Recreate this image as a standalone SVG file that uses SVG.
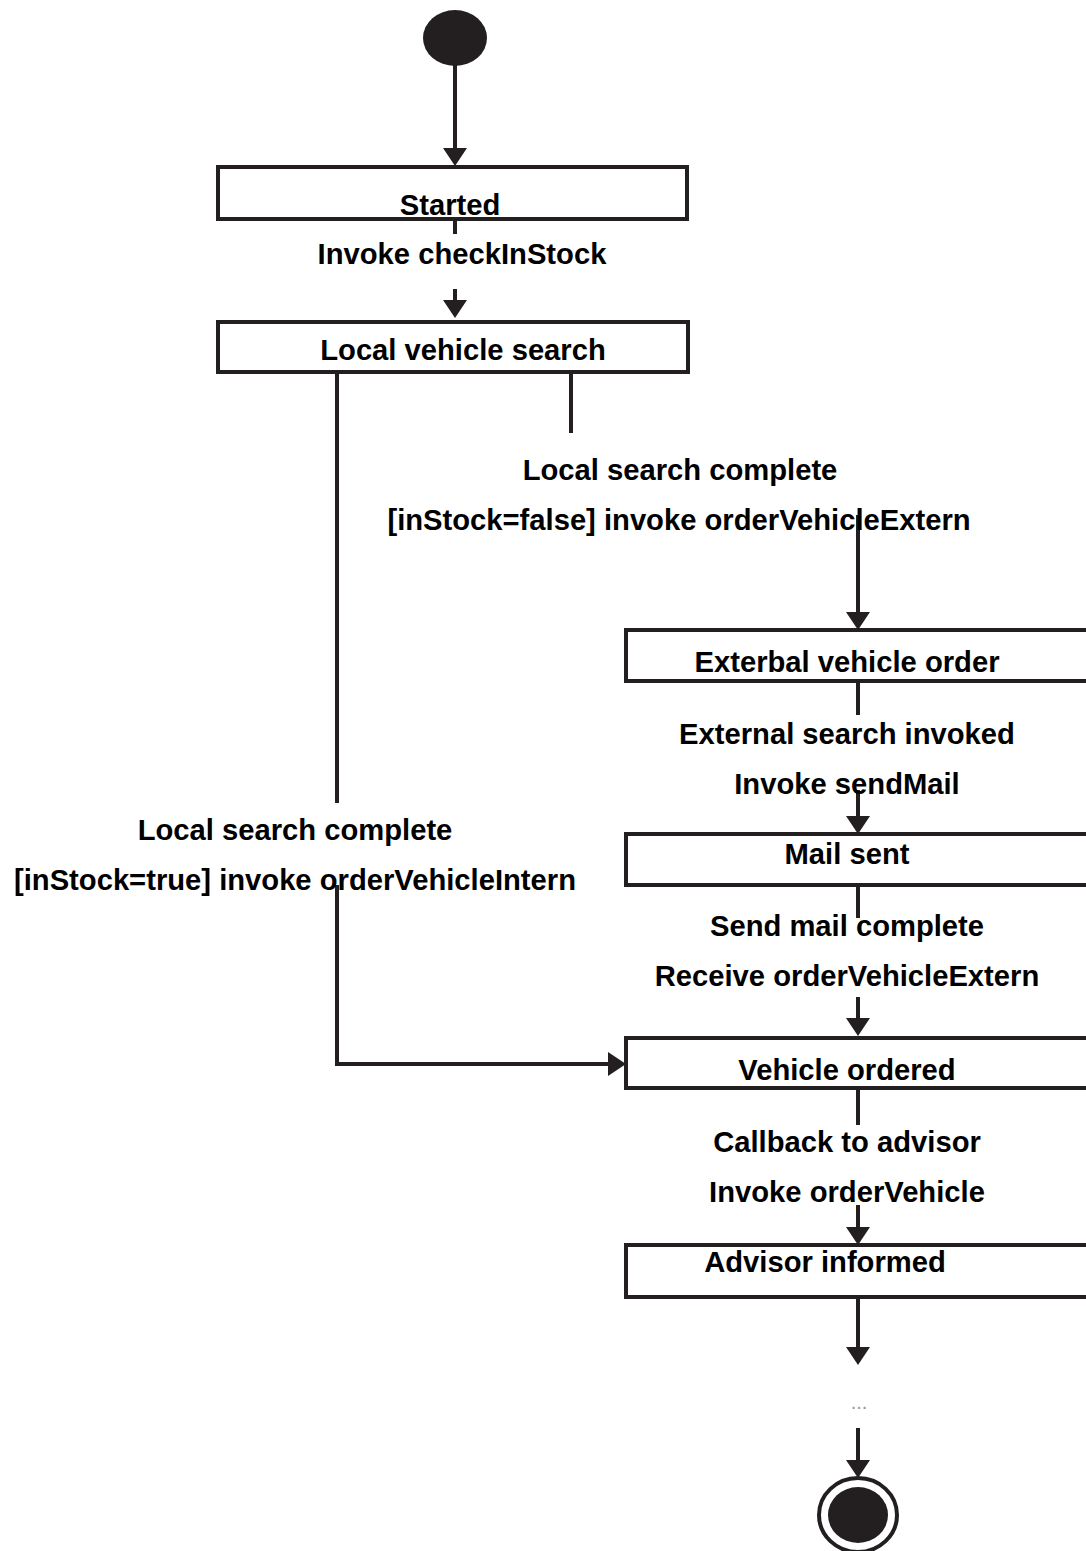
<svg xmlns="http://www.w3.org/2000/svg" width="1086" height="1551" viewBox="0 0 1086 1551">
  <style>
    .state { fill: #ffffff; stroke: #231f20; stroke-width: 4; }
    .lbl { font-family: "Liberation Sans", Arial, sans-serif; font-weight: bold; font-size: 29.2px; fill: #000000; text-anchor: middle; }
    .edge { fill: none; stroke: #231f20; stroke-width: 4; }
    .arrow { fill: none; stroke: #231f20; stroke-width: 4; marker-end: url(#head); }
  </style>
  <defs>
    <marker id="head" viewBox="0 0 18 24" refX="10" refY="12" markerWidth="18" markerHeight="24" markerUnits="userSpaceOnUse" orient="auto">
      <path d="M0,0 L18,12 L0,24 z" fill="#231f20"/>
    </marker>
  </defs>

  <rect width="1086" height="1551" fill="#ffffff"/>

  <!-- transitions -->
  <g id="connectors">
    <path class="arrow" d="M455,65 L455,158"/>
    <path class="edge" d="M455,219 L455,234"/>
    <path class="arrow" d="M455,289 L455,310"/>
    <path class="edge" d="M571,372 L571,433"/>
    <path class="edge" d="M337,372 L337,803"/>
    <path class="arrow" d="M858,515 L858,622"/>
    <path class="edge" d="M858,681 L858,715"/>
    <path class="arrow" d="M858,790 L858,826"/>
    <path class="edge" d="M858,885 L858,918"/>
    <path class="arrow" d="M858,997 L858,1028"/>
    <path class="arrow" d="M337,885 L337,1064 L618,1064"/>
    <path class="edge" d="M858,1088 L858,1125"/>
    <path class="arrow" d="M858,1205 L858,1237"/>
    <path class="arrow" d="M858,1297 L858,1357"/>
    <path class="arrow" d="M858,1428 L858,1470"/>
  </g>

  <g id="start">
    <ellipse cx="455" cy="38" rx="32" ry="28" fill="#231f20"/>
  </g>

  <g id="started">
    <rect class="state" x="218" y="167" width="469" height="52"/>
    <text class="lbl" x="450" y="215">Started</text>
  </g>

  <g id="local-vehicle-search">
    <rect class="state" x="218" y="322" width="470" height="50"/>
    <text class="lbl" x="463" y="360">Local vehicle search</text>
  </g>

  <g id="external-vehicle-order">
    <rect class="state" x="626" y="630" width="480" height="51"/>
    <text class="lbl" x="847" y="672">Exterbal vehicle order</text>
  </g>

  <g id="mail-sent">
    <rect class="state" x="626" y="834" width="480" height="51"/>
    <text class="lbl" x="847" y="864">Mail sent</text>
  </g>

  <g id="vehicle-ordered">
    <rect class="state" x="626" y="1038" width="480" height="50"/>
    <text class="lbl" x="847" y="1080">Vehicle ordered</text>
  </g>

  <g id="advisor-informed">
    <rect class="state" x="626" y="1245" width="480" height="52"/>
    <text class="lbl" x="825" y="1272">Advisor informed</text>
  </g>

  <g id="end">
    <ellipse cx="858" cy="1515" rx="39" ry="37" fill="#ffffff" stroke="#231f20" stroke-width="4"/>
    <ellipse cx="858" cy="1515" rx="30" ry="28" fill="#231f20"/>
  </g>

  <!-- transition labels -->
  <g id="labels">
    <text class="lbl" x="462" y="264">Invoke checkInStock</text>
    <text class="lbl" x="680" y="480">Local search complete</text>
    <text class="lbl" x="679" y="530">[inStock=false] invoke orderVehicleExtern</text>
    <text class="lbl" x="847" y="744">External search invoked</text>
    <text class="lbl" x="847" y="794">Invoke sendMail</text>
    <text class="lbl" x="295" y="840">Local search complete</text>
    <text class="lbl" x="295" y="890">[inStock=true] invoke orderVehicleIntern</text>
    <text class="lbl" x="847" y="936">Send mail complete</text>
    <text class="lbl" x="847" y="986">Receive orderVehicleExtern</text>
    <text class="lbl" x="847" y="1152">Callback to advisor</text>
    <text class="lbl" x="847" y="1202">Invoke orderVehicle</text>
    <text x="859" y="1409" font-family="Liberation Sans, Arial, sans-serif" font-size="20" fill="#999999" text-anchor="middle">...</text>
  </g>
</svg>
